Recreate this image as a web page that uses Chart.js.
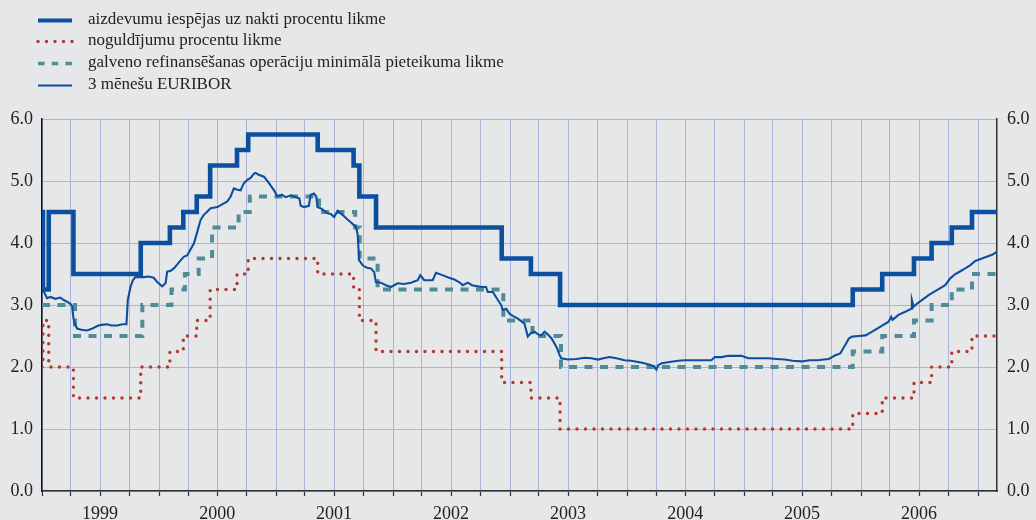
<!DOCTYPE html>
<html>
<head>
<meta charset="utf-8">
<script src="https://cdn.jsdelivr.net/npm/chart.js@4/dist/chart.umd.min.js"></script>
<style>
  html, body { margin: 0; padding: 0; background: #e6e7e9; }
  #wrap { position: relative; width: 1036px; height: 520px; overflow: hidden; }
  #c { position: absolute; left: 0; top: 0; }
  .lg { position: absolute; left: 0; height: 22px; width: 700px; font-family: "Liberation Serif", "Times New Roman", serif; font-size: 17px; line-height: 21px; color: #222; }
  .lg svg { position: absolute; left: 36px; top: 0; }
  .lg span { position: absolute; left: 88px; top: 0; white-space: nowrap; }
</style>
</head>
<body>
<div id="wrap">
  <canvas id="c" width="1036" height="520"></canvas>
  <div id="legend"></div>
</div>
<script>
// ---------- data ----------
const seriesLabels = [
  'aizdevumu iespējas uz nakti procentu likme',
  'noguldījumu procentu likme',
  'galveno refinansēšanas operāciju minimālā pieteikuma likme',
  '3 mēnešu EURIBOR'
];
const years = [1999, 2000, 2001, 2002, 2003, 2004, 2005, 2006];
const yearLabels = ['1999', '2000', '2001', '2002', '2003', '2004', '2005', '2006'];
const yTickValues = [0, 1, 2, 3, 4, 5, 6];
const endDate = '2007-03-01';

// marginal lending facility
const marginalDates = ['1999-01-01','1999-01-04','1999-01-22','1999-04-09','1999-11-05','2000-02-04','2000-03-17','2000-04-28','2000-06-09','2000-09-01','2000-10-06','2001-05-11','2001-08-31','2001-09-18','2001-11-09','2002-12-06','2003-03-07','2003-06-06','2005-12-06','2006-03-08','2006-06-15','2006-08-09','2006-10-11','2006-12-13','2007-03-01'];
const marginalValues = [4.50,3.25,4.50,3.50,4.00,4.25,4.50,4.75,5.25,5.50,5.75,5.50,5.25,4.75,4.25,3.75,3.50,3.00,3.25,3.50,3.75,4.00,4.25,4.50,4.50];

// deposit facility
const depositDates = ['1999-01-01','1999-01-04','1999-01-22','1999-04-09','1999-11-05','2000-02-04','2000-03-17','2000-04-28','2000-06-09','2000-09-01','2000-10-06','2001-05-11','2001-08-31','2001-09-18','2001-11-09','2002-12-06','2003-03-07','2003-06-06','2005-12-06','2006-03-08','2006-06-15','2006-08-09','2006-10-11','2006-12-13','2007-03-01'];
const depositValues = [2.00,2.75,2.00,1.50,2.00,2.25,2.50,2.75,3.25,3.50,3.75,3.50,3.25,2.75,2.25,1.75,1.50,1.00,1.25,1.50,1.75,2.00,2.25,2.50,2.50];

// main refinancing operations
const refiDates = ['1999-01-01','1999-04-14','1999-11-10','2000-02-09','2000-03-22','2000-05-04','2000-06-15','2000-09-06','2000-10-11','2001-05-15','2001-09-05','2001-09-19','2001-11-14','2002-12-11','2003-03-12','2003-06-09','2005-12-06','2006-03-08','2006-06-15','2006-08-09','2006-10-11','2006-12-13','2007-03-01'];
const refiValues = [3.00,2.50,3.00,3.25,3.50,3.75,4.25,4.50,4.75,4.50,4.25,3.75,3.25,2.75,2.50,2.00,2.25,2.50,2.75,3.00,3.25,3.50,3.50];

// 3-month EURIBOR (x in fractional years)
const euriborX = [1999.000,1999.020,1999.043,1999.071,1999.114,1999.157,1999.185,1999.217,1999.242,1999.257,1999.268,1999.277,1999.300,1999.336,1999.385,1999.431,1999.471,1999.508,1999.557,1999.593,1999.642,1999.688,1999.722,1999.733,1999.756,1999.777,1999.799,1999.870,1999.910,1999.955,1999.985,
2000.027,2000.056,2000.070,2000.098,2000.127,2000.158,2000.184,2000.214,2000.241,2000.270,2000.298,2000.327,2000.355,2000.381,2000.398,2000.441,2000.498,2000.535,2000.584,2000.612,2000.640,2000.670,2000.698,2000.723,2000.755,2000.783,2000.812,2000.826,2000.852,2000.897,2000.938,2000.983,
2001.012,2001.049,2001.083,2001.126,2001.169,2001.199,2001.211,2001.240,2001.280,2001.297,2001.323,2001.344,2001.354,2001.391,2001.440,2001.468,2001.497,2001.526,2001.539,2001.571,2001.611,2001.648,2001.682,2001.697,2001.711,2001.740,2001.777,2001.811,2001.839,2001.854,2001.896,2001.939,2001.982,
2002.039,2002.093,2002.153,2002.211,2002.233,2002.267,2002.307,2002.339,2002.367,2002.410,2002.438,2002.479,2002.524,2002.564,2002.596,2002.639,2002.676,2002.724,2002.761,2002.795,2002.810,2002.853,2002.896,2002.924,2002.938,2002.967,2002.995,
2003.027,2003.067,2003.095,2003.123,2003.152,2003.180,2003.209,2003.236,2003.266,2003.295,2003.326,2003.355,2003.398,2003.426,2003.438,2003.495,2003.567,2003.637,2003.695,2003.752,2003.797,2003.851,2003.908,2003.979,
2004.036,2004.094,2004.148,2004.207,2004.233,2004.250,2004.267,2004.296,2004.364,2004.437,2004.490,2004.550,2004.635,2004.721,2004.750,2004.807,2004.865,2004.918,2004.978,
2005.036,2005.115,2005.207,2005.278,2005.349,2005.415,2005.492,2005.561,2005.635,2005.680,2005.724,2005.752,2005.780,2005.823,2005.853,2005.872,2005.895,2005.924,2005.981,
2006.038,2006.095,2006.166,2006.235,2006.257,2006.269,2006.320,2006.377,2006.428,2006.434,2006.449,2006.477,2006.520,2006.577,2006.648,2006.719,2006.762,2006.805,2006.845,2006.890,2006.931,2006.976,
2007.062,2007.120,2007.162];
const euriborValues = [3.25,3.20,3.11,3.13,3.10,3.12,3.08,3.05,3.02,2.98,2.80,2.71,2.62,2.60,2.59,2.62,2.66,2.68,2.69,2.67,2.67,2.69,2.69,3.08,3.29,3.40,3.45,3.45,3.46,3.44,3.37,
3.30,3.35,3.54,3.55,3.59,3.66,3.72,3.78,3.80,3.90,3.99,4.18,4.37,4.45,4.48,4.56,4.58,4.62,4.67,4.75,4.88,4.86,4.85,4.96,5.02,5.05,5.12,5.13,5.10,5.07,4.97,4.85,
4.75,4.78,4.74,4.77,4.74,4.72,4.60,4.58,4.60,4.78,4.80,4.75,4.58,4.55,4.48,4.47,4.42,4.52,4.50,4.45,4.38,4.32,4.26,4.15,3.72,3.64,3.60,3.59,3.53,3.37,3.36,3.32,3.29,
3.35,3.34,3.36,3.40,3.48,3.40,3.40,3.40,3.52,3.49,3.47,3.44,3.41,3.37,3.32,3.36,3.32,3.30,3.29,3.29,3.21,3.21,3.08,3.00,2.92,2.94,2.86,
2.82,2.78,2.74,2.70,2.49,2.55,2.57,2.53,2.51,2.57,2.52,2.46,2.32,2.18,2.14,2.12,2.13,2.15,2.14,2.12,2.14,2.16,2.14,2.11,
2.10,2.08,2.06,2.03,2.01,1.96,2.03,2.06,2.08,2.10,2.11,2.11,2.11,2.11,2.16,2.16,2.18,2.18,2.18,
2.14,2.14,2.14,2.13,2.12,2.10,2.09,2.11,2.11,2.12,2.13,2.16,2.19,2.22,2.32,2.38,2.46,2.49,2.50,
2.51,2.57,2.65,2.73,2.81,2.76,2.84,2.89,2.94,3.08,2.97,3.02,3.08,3.16,3.24,3.32,3.43,3.50,3.54,3.59,3.64,3.71,
3.77,3.81,3.86];

// ---------- helpers ----------
function toYear(s) {
  const p = s.split('-').map(Number);
  const t0 = Date.UTC(p[0], 0, 1), t1 = Date.UTC(p[0] + 1, 0, 1);
  return p[0] + (Date.UTC(p[0], p[1] - 1, p[2]) - t0) / (t1 - t0);
}
const pairs = (xs, ys, conv) => xs.map((x, i) => ({ x: conv ? toYear(x) : x, y: ys[i] }));

const quarterTicks = [];
years.forEach((yr, i) => {
  ['01-01', '04-01', '07-01', '10-01'].forEach(md => {
    quarterTicks.push({ value: toYear(yr + '-' + md), label: md === '07-01' ? yearLabels[i] : '' });
  });
});
quarterTicks.push({ value: years[years.length - 1] + 1, label: '' });

const BLUE = '#0c4f9e', RED = '#b3382f', TEAL = '#4f8b98', GRID = '#aab3dc';
const FONT = { family: '"Liberation Serif", "Times New Roman", serif', size: 18 };

// ---------- legend (HTML text) ----------
const legendSamples = [
  '<line x1="2" y1="0" x2="36" y2="0" stroke="' + BLUE + '" stroke-width="4"/>',
  '<line x1="2" y1="0" x2="37" y2="0" stroke="' + RED + '" stroke-width="3.4" stroke-linecap="round" stroke-dasharray="0 8.5"/>',
  '<line x1="2" y1="0" x2="36" y2="0" stroke="' + TEAL + '" stroke-width="3.6" stroke-dasharray="6.5 7.2"/>',
  '<line x1="2" y1="0" x2="36" y2="0" stroke="' + BLUE + '" stroke-width="2.2"/>'
];
const lg = document.getElementById('legend');
seriesLabels.forEach((t, i) => {
  const row = document.createElement('div');
  row.className = 'lg';
  const top = 7.5 + i * 21.8;
  row.style.top = top + 'px';
  row.innerHTML = '<svg width="40" height="22" viewBox="0 -12.5 40 22">' + legendSamples[i] + '</svg><span></span>';
  row.querySelector('span').textContent = t;
  lg.appendChild(row);
});

// ---------- chart ----------
new Chart(document.getElementById('c'), {
  type: 'line',
  data: {
    datasets: [
      { label: seriesLabels[0], data: pairs(marginalDates, marginalValues, true), stepped: 'before',
        borderColor: BLUE, borderWidth: 4.6, pointRadius: 0, borderJoinStyle: 'miter', fill: false },
      { label: seriesLabels[3], data: pairs(euriborX, euriborValues, false),
        borderColor: BLUE, borderWidth: 2.1, pointRadius: 0, tension: 0, fill: false },
      { label: seriesLabels[2], data: pairs(refiDates, refiValues, true), stepped: 'before',
        borderColor: TEAL, borderWidth: 4, borderDash: [8, 7.5], pointRadius: 0, fill: false },
      { label: seriesLabels[1], data: pairs(depositDates, depositValues, true), stepped: 'before',
        borderColor: RED, borderWidth: 3.4, borderDash: [0, 8.5], borderCapStyle: 'round', pointRadius: 0, fill: false }
    ]
  },
  options: {
    responsive: false,
    animation: false,
    events: [],
    layout: { padding: { top: 119, left: 0, right: 0, bottom: 0 } },
    plugins: { legend: { display: false }, tooltip: { enabled: false } },
    scales: {
      x: {
        type: 'linear',
        min: years[0],
        max: toYear(endDate),
        afterBuildTicks: s => { s.ticks = quarterTicks.map(t => ({ value: t.value })); },
        afterFit: s => { s.height = 29; },
        ticks: { autoSkip: false, maxRotation: 0, padding: 7, font: FONT, color: '#222',
                 callback: (v, i) => quarterTicks[i] ? quarterTicks[i].label : '' },
        grid: { color: GRID, lineWidth: 1, drawTicks: true, tickLength: 5, tickColor: '#333', tickWidth: 1.2 },
        border: { display: true, color: '#333', width: 1.5 }
      },
      y: {
        position: 'left',
        min: 0, max: 6,
        afterBuildTicks: s => { s.ticks = yTickValues.map(v => ({ value: v })); },
        afterFit: s => { s.width = 42; },
        ticks: { padding: 9, font: FONT, color: '#222', callback: v => Number(v).toFixed(1) },
        grid: { color: GRID, lineWidth: 1, drawTicks: false },
        border: { display: true, color: '#111', width: 1.5 }
      },
      y2: {
        position: 'right',
        min: 0, max: 6,
        afterBuildTicks: s => { s.ticks = yTickValues.map(v => ({ value: v })); },
        afterFit: s => { s.width = 39; },
        ticks: { padding: 10, font: FONT, color: '#222', callback: v => Number(v).toFixed(1) },
        grid: { drawOnChartArea: false, drawTicks: false },
        border: { display: true, color: '#333', width: 1.5 }
      }
    }
  }
});
</script>
</body>
</html>
